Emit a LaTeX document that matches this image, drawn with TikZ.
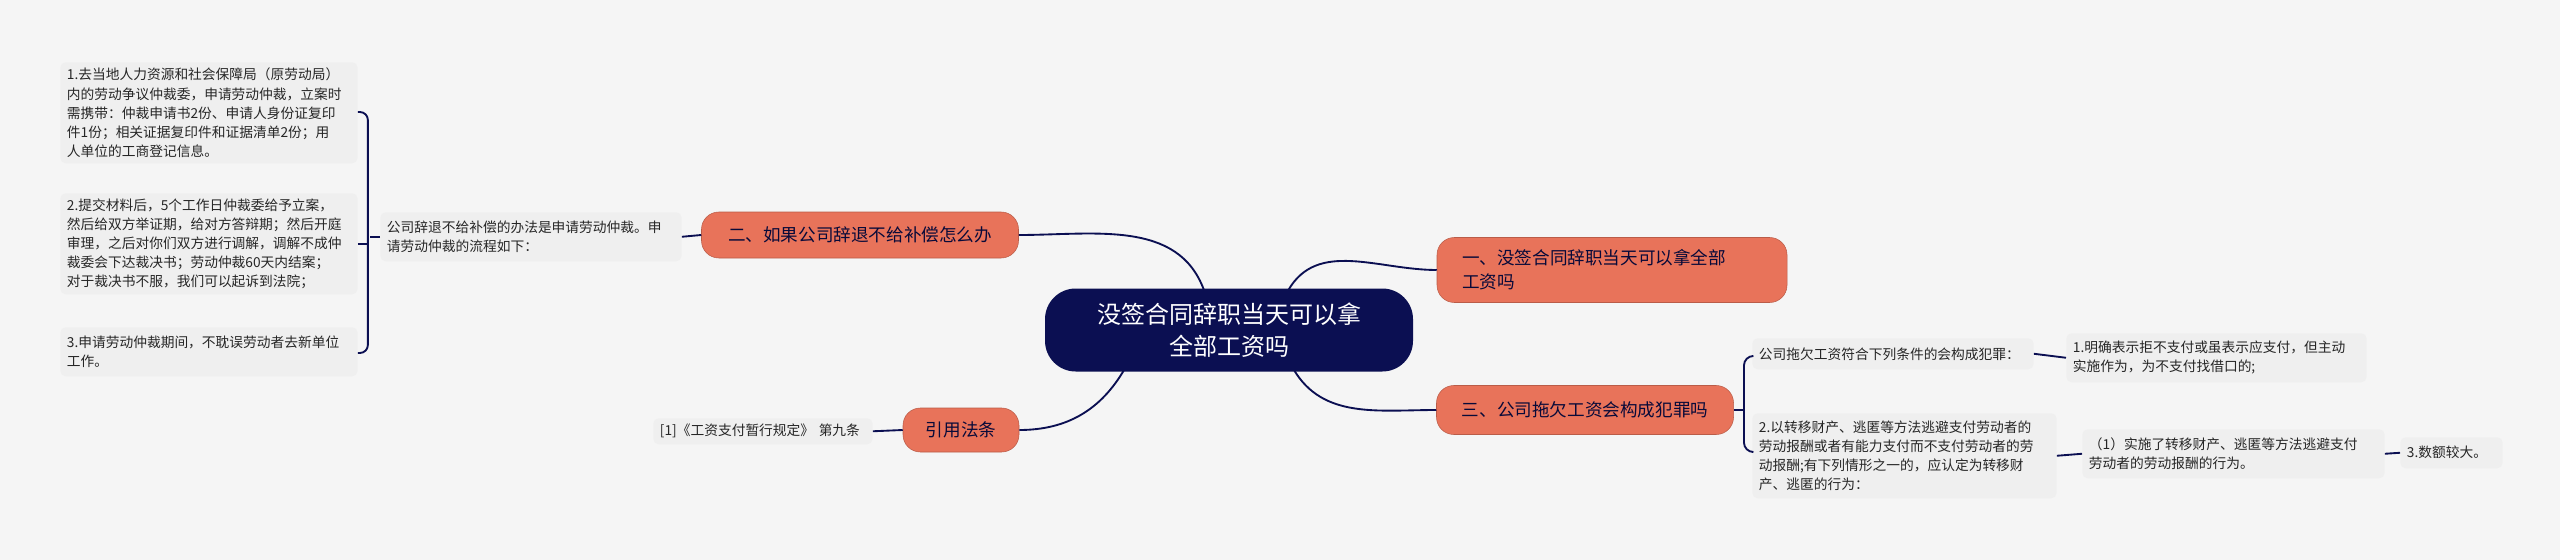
\documentclass[tikz,border=0pt]{standalone}
\usepackage{fontspec}
\setmainfont{Noto Sans CJK SC}
\definecolor{navy}{HTML}{0B0F52}
\definecolor{salmon}{HTML}{E8735A}
\definecolor{leafbg}{HTML}{EFEFEF}
\definecolor{pagebg}{HTML}{F5F5F5}
\tikzset{
  root/.style={fill=navy, text=white, rounded corners=23pt, font=\fontsize{18}{24}\selectfont, align=center, minimum width=368*0.75pt, minimum height=83*0.75pt},
  branch/.style={fill=salmon, draw=salmon!80!black, text=navy!70!black, rounded corners=13pt, font=\fontsize{13.2}{18}\selectfont, inner sep=0pt},
  leaf/.style={fill=leafbg, rounded corners=4pt, font=\fontsize{10.3}{14.3}\selectfont, align=left, text=black!85, inner xsep=5pt, inner ysep=0pt, anchor=north west}
}
\begin{document}
\begin{tikzpicture}[x=0.75pt,y=-0.75pt]
  % page
  \fill[pagebg] (0,0) rectangle (2560,560);
  \useasboundingbox (0,0) rectangle (2560,560);
  \tikzset{link/.style={draw=navy, line width=1.4pt}}

  % main nodes
  \node[root] (root) at (1229,330) {没签合同辞职当天可以拿\\全部工资吗};
  \node[branch, minimum width=350*0.75pt, minimum height=65*0.75pt, align=left, text width=300*0.75pt] (r1) at (1612,270) {一、没签合同辞职当天可以拿全部\\工资吗};
  \node[branch, minimum width=297*0.75pt, minimum height=49*0.75pt, align=center] (r3) at (1585,410) {三、公司拖欠工资会构成犯罪吗};
  \node[branch, minimum width=317*0.75pt, minimum height=46*0.75pt, align=center] (l2) at (860,235) {二、如果公司辞退不给补偿怎么办};
  \node[branch, minimum width=116*0.75pt, minimum height=44*0.75pt, align=center] (law) at (961,430) {引用法条};

  % left leaves
  \node[leaf, minimum height=101*0.75pt, text width=284*0.75pt] (a1) at (60,62) {1.去当地人力资源和社会保障局（原劳动局）\\内的劳动争议仲裁委，申请劳动仲裁，立案时\\需携带：仲裁申请书2份、申请人身份证复印\\件1份；相关证据复印件和证据清单2份；用\\人单位的工商登记信息。};
  \node[leaf, minimum height=101*0.75pt, text width=284*0.75pt] (a2) at (60,193) {2.提交材料后，5个工作日仲裁委给予立案，\\然后给双方举证期，给对方答辩期；然后开庭\\审理，之后对你们双方进行调解，调解不成仲\\裁委会下达裁决书；劳动仲裁60天内结案；\\对于裁决书不服，我们可以起诉到法院；};
  \node[leaf, minimum height=49*0.75pt, text width=284*0.75pt] (a3) at (60,327) {3.申请劳动仲裁期间，不耽误劳动者去新单位\\工作。};
  \node[leaf, minimum height=49*0.75pt, text width=288*0.75pt] (amid) at (380,212) {公司辞退不给补偿的办法是申请劳动仲裁。申\\请劳动仲裁的流程如下：};
  \node[leaf, minimum height=26*0.75pt, text width=206*0.75pt] (lawtxt) at (653,418) {[1]《工资支付暂行规定》 第九条};

  % right leaves
  \node[leaf, minimum height=31*0.75pt, text width=268*0.75pt] (c0) at (1752,338) {公司拖欠工资符合下列条件的会构成犯罪：};
  \node[leaf, minimum height=49*0.75pt, text width=287*0.75pt] (c1) at (2066,333) {1.明确表示拒不支付或虽表示应支付，但主动\\实施作为，为不支付找借口的;};
  \node[leaf, minimum height=85*0.75pt, text width=291*0.75pt] (c2) at (1752,413) {2.以转移财产、逃匿等方法逃避支付劳动者的\\劳动报酬或者有能力支付而不支付劳动者的劳\\动报酬;有下列情形之一的，应认定为转移财\\产、逃匿的行为：};
  \node[leaf, minimum height=49*0.75pt, text width=289*0.75pt] (c3) at (2082,429) {（1）实施了转移财产、逃匿等方法逃避支付\\劳动者的劳动报酬的行为。};
  \node[leaf, minimum height=31*0.75pt, text width=89*0.75pt] (c4) at (2400,437) {3.数额较大。};

  % root connectors
  \draw[link] (root.north) ++(-25,2) to[out=110,in=0] (l2.east);
  \draw[link] (root.south west) ++(80,-3) to[out=240,in=0] (law.east);
  \draw[link] (root.north east) ++(-125,2) to[out=60,in=180] (r1.west);
  \draw[link] (root.south east) ++(-120,-3) to[out=300,in=180] (r3.west);

  % left side
  \draw[link] (l2.west) -- (amid.east);
  \draw[link] (law.west) -- (lawtxt.east);
  \draw[link] (amid.west) -- ++(-10,0) coordinate (amidjoin);
  \draw[link, rounded corners=6pt] (a1.east |- 0,112) -- ++(10,0) -- ++(0,241) -- ++(-10,0);
  \draw[link] (a2.east |- 0,244) -- ++(10,0);

  % right side
  \draw[link] (r3.east) -- ++(10,0) coordinate (r3join);
  \draw[link, rounded corners=7pt] (c0.west |- 0,356) -- ++(-8,0) |- (c2.west |- 0,452);
  \draw[link] (c0.east) -- (c1.west);
  \draw[link] (c2.east) -- (c3.west);
  \draw[link] (c3.east) -- (c4.west);
\end{tikzpicture}
\end{document}
